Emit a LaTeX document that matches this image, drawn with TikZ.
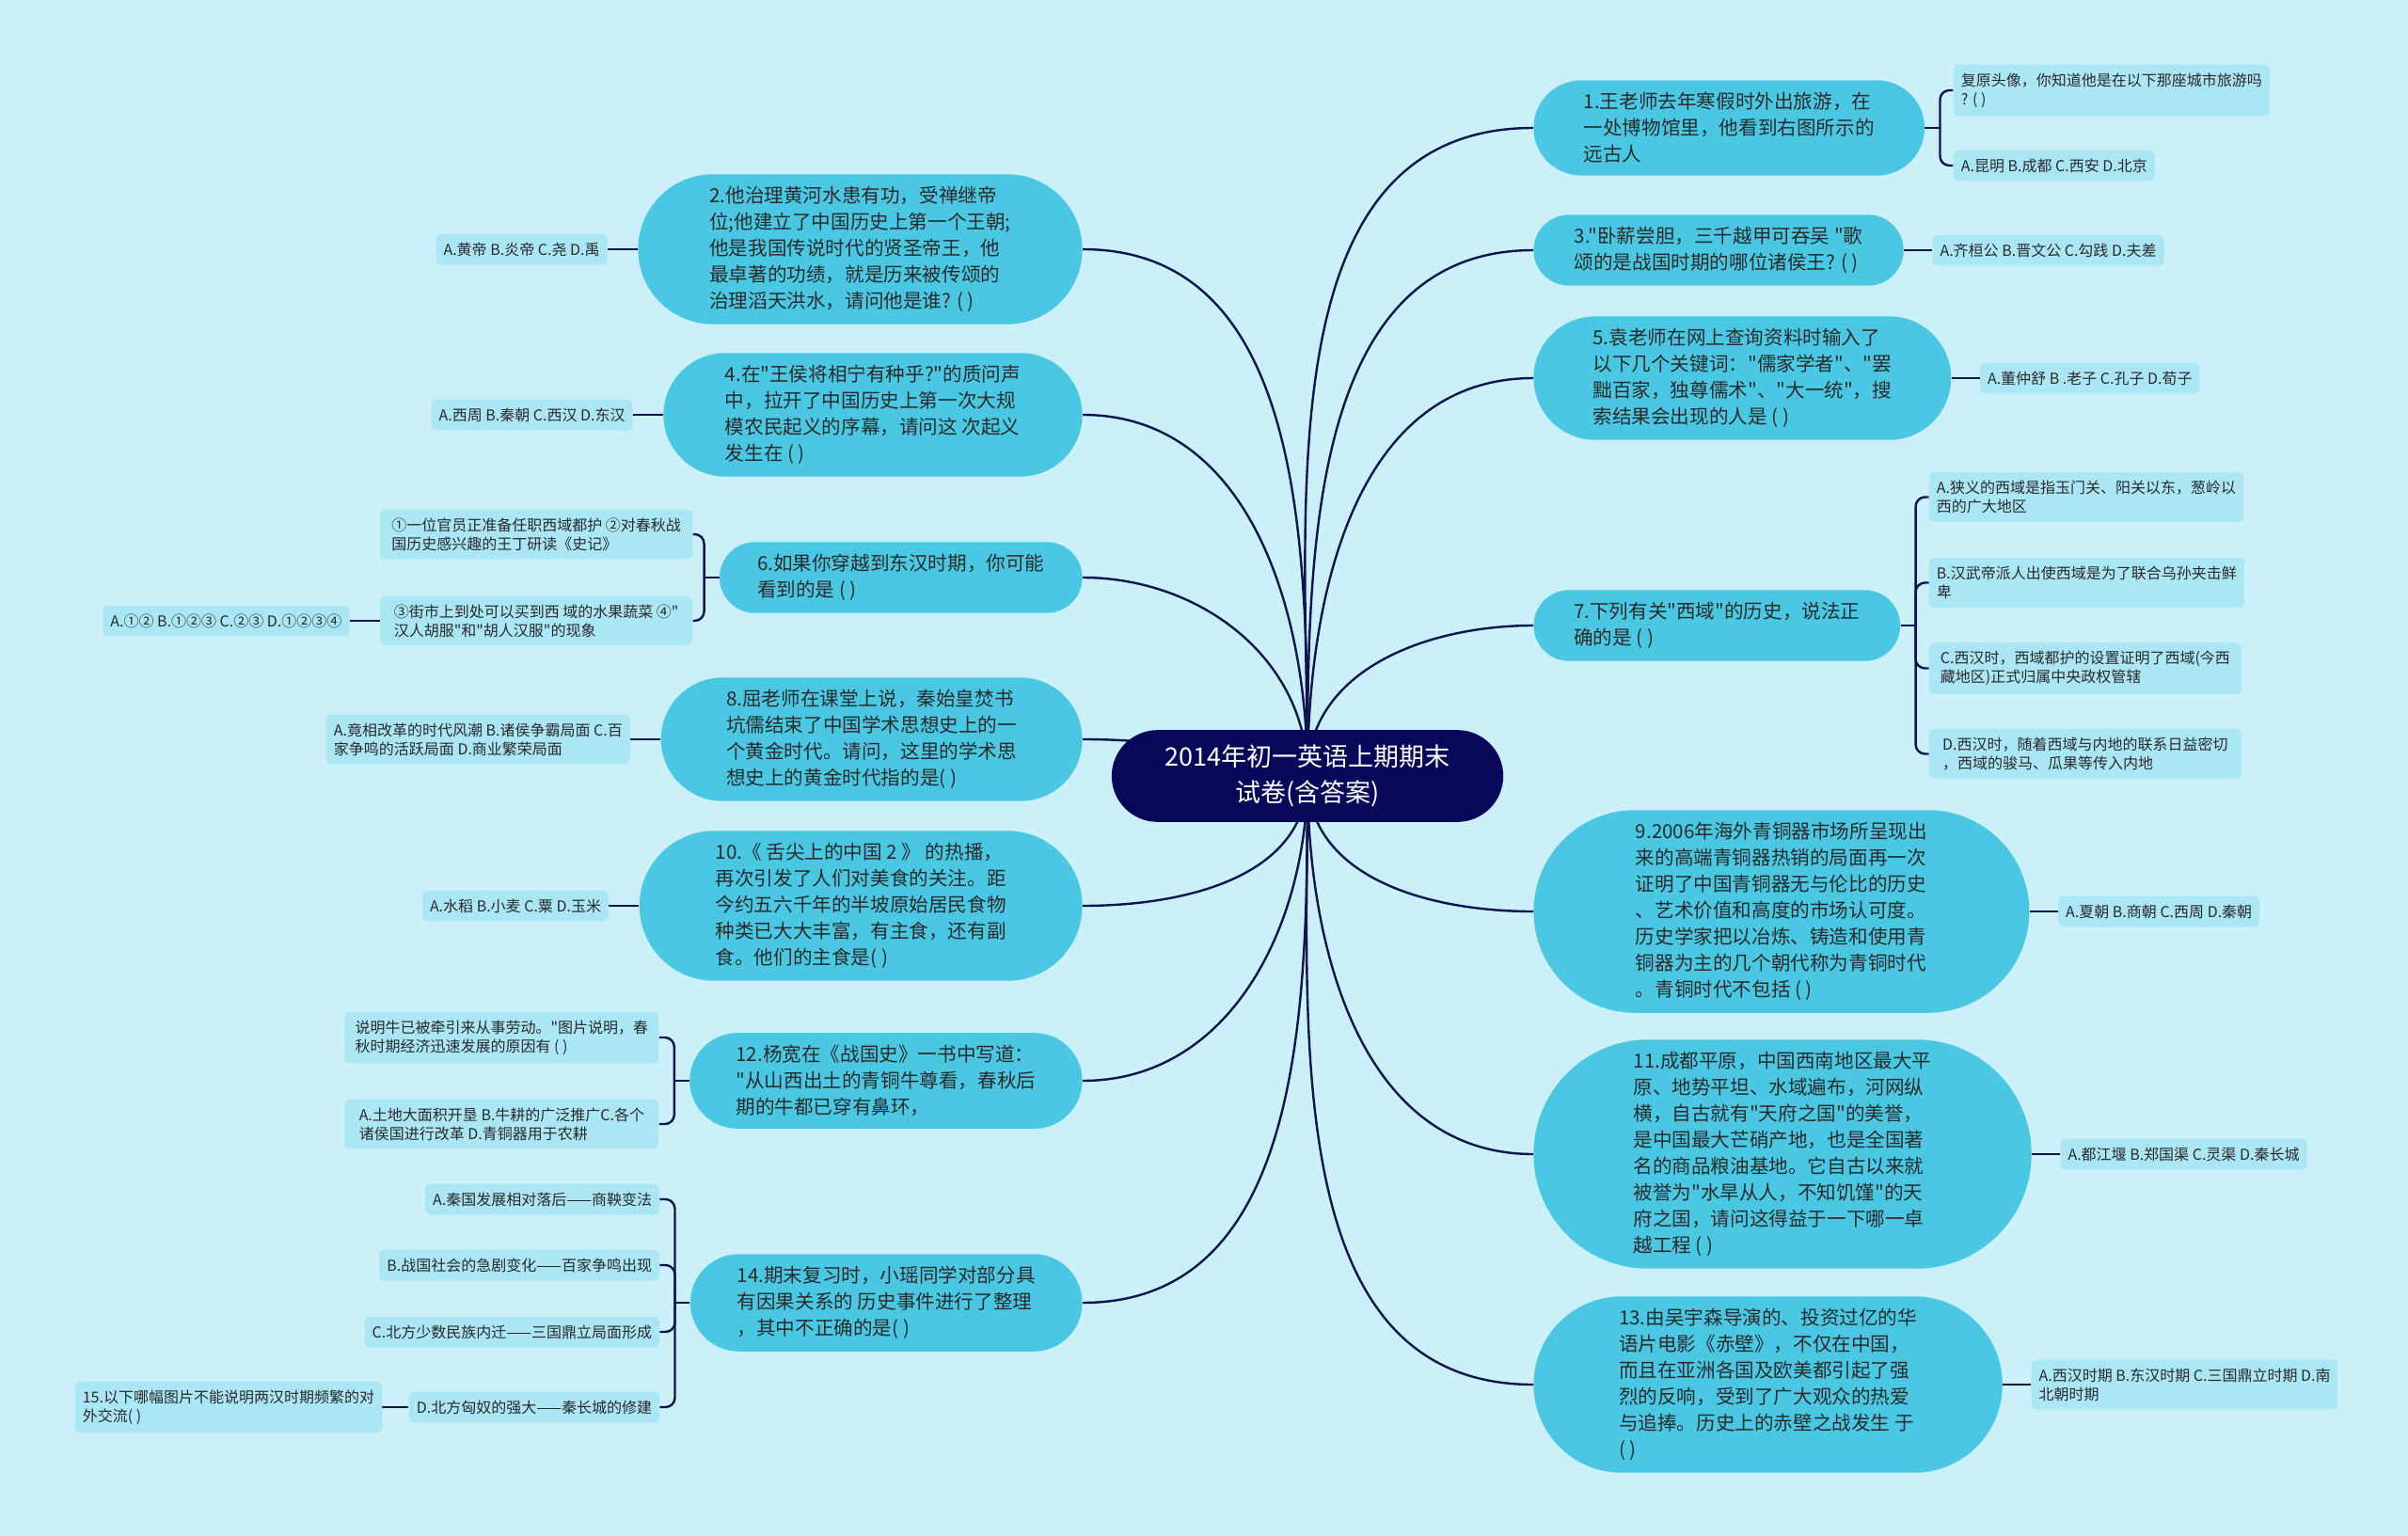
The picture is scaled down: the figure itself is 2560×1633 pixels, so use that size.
\documentclass[tikz,border=0pt]{standalone}
\usepackage{fontspec}
\setmainfont{Noto Sans CJK SC}[Ligatures=TeXOff]
\usetikzlibrary{positioning,shapes.misc,backgrounds}
\definecolor{bgcol}{HTML}{CBF0F8}
\definecolor{topiccol}{HTML}{4AC8E3}
\definecolor{answcol}{HTML}{AAE6F4}
\definecolor{rootcol}{HTML}{08085A}
\definecolor{linecol}{HTML}{0E1450}
\definecolor{txtcol}{HTML}{2A2A2A}

\begin{document}
\begin{tikzpicture}[x=0.5pt,y=0.5pt,
  topic/.style={rounded rectangle, fill=topiccol, text=txtcol, align=left, font=\fontsize{10.3}{14}\selectfont, inner xsep=#1, inner ysep=6.5pt},
  topic/.default=17pt,
  answ/.style={rectangle, rounded corners=3pt, fill=answcol, text=txtcol, align=left, font=\fontsize{8}{10}\selectfont, inner xsep=4pt, inner ysep=4.5pt},
  link/.style={draw=linecol, line width=1.2pt},
  brace/.style={link, rounded corners=5pt}]

\useasboundingbox (0,0) rectangle (2560,-1633);

\node[rounded rectangle, fill=rootcol, text=white, align=center, font=\fontsize{13.5}{18.8}\selectfont, inner xsep=22pt, inner ysep=8pt] (root) at (1390,-825) {2014年初一英语上期期末\\试卷(含答案)};

% right side
\node[topic=18.3pt, anchor=west] (q1) at (1630,-136) {1.王老师去年寒假时外出旅游，在\\一处博物馆里，他看到右图所示的\\远古人};
\node[answ, right=15pt of q1, yshift=20pt] (q1a) {复原头像，你知道他是在以下那座城市旅游吗\\? ( )};
\node[answ, right=15pt of q1, yshift=-20pt] (q1b) {A.昆明 B.成都 C.西安 D.北京};

\node[topic=17pt, anchor=west] (q3) at (1630,-266) {3."卧薪尝胆，三千越甲可吞吴 "歌\\颂的是战国时期的哪位诸侯王? ( )};
\node[answ, right=15pt of q3] (q3a) {A.齐桓公 B.晋文公 C.勾践 D.夫差};

\node[topic=18.3pt, anchor=west] (q5) at (1630,-402) {5.袁老师在网上查询资料时输入了\\以下几个关键词："儒家学者"、"罢\\黜百家，独尊儒术"、"大一统"，搜\\索结果会出现的人是 ( )};
\node[answ, right=15pt of q5] (q5a) {A.董仲舒 B .老子 C.孔子 D.荀子};

\node[topic=16.7pt, anchor=west] (q7) at (1630,-665) {7.下列有关"西域"的历史，说法正\\确的是 ( )};
\node[answ, minimum width=166pt, right=15pt of q7, yshift=68.25pt] (q7a) {A.狭义的西域是指玉门关、阳关以东，葱岭以\\西的广大地区};
\node[answ, minimum width=166pt, right=15pt of q7, yshift=22.75pt] (q7b) {B.汉武帝派人出使西域是为了联合乌孙夹击鲜\\卑};
\node[answ, minimum width=166pt, right=15pt of q7, yshift=-22.75pt] (q7c) {C.西汉时，西域都护的设置证明了西域(今西\\藏地区)正式归属中央政权管辖};
\node[answ, minimum width=166pt, right=15pt of q7, yshift=-68.25pt] (q7d) {D.西汉时，随着西域与内地的联系日益密切\\，西域的骏马、瓜果等传入内地};

\node[topic=26pt, anchor=west] (q9) at (1630,-969) {9.2006年海外青铜器市场所呈现出\\来的高端青铜器热销的局面再一次\\证明了中国青铜器无与伦比的历史\\、艺术价值和高度的市场认可度。\\历史学家把以冶炼、铸造和使用青\\铜器为主的几个朝代称为青铜时代\\。青铜时代不包括 ( )};
\node[answ, right=15pt of q9] (q9a) {A.夏朝 B.商朝 C.西周 D.秦朝};

\node[topic=19.6pt, anchor=west] (q11) at (1630,-1227) {11.成都平原，中国西南地区最大平\\原、地势平坦、水域遍布，河网纵\\横，自古就有"天府之国"的美誉，\\是中国最大芒硝产地，也是全国著\\名的商品粮油基地。它自古以来就\\被誉为"水旱从人，不知饥馑"的天\\府之国，请问这得益于一下哪一卓\\越工程 ( )};
\node[answ, right=15pt of q11] (q11a) {A.都江堰 B.郑国渠 C.灵渠 D.秦长城};

\node[topic=22.3pt, anchor=west] (q13) at (1630,-1472) {13.由吴宇森导演的、投资过亿的华\\语片电影《赤壁》，不仅在中国，\\而且在亚洲各国及欧美都引起了强\\烈的反响，受到了广大观众的热爱\\与追捧。历史上的赤壁之战发生 于\\( )};
\node[answ, right=15pt of q13] (q13a) {A.西汉时期 B.东汉时期 C.三国鼎立时期 D.南\\北朝时期};

% left side
\node[topic=19.9pt, anchor=east] (q2) at (1151,-265) {2.他治理黄河水患有功，受禅继帝\\位;他建立了中国历史上第一个王朝;\\他是我国传说时代的贤圣帝王，他\\最卓著的功绩，就是历来被传颂的\\治理滔天洪水，请问他是谁? ( )};
\node[answ, left=16pt of q2] (q2a) {A.黄帝 B.炎帝 C.尧 D.禹};

\node[topic=19.5pt, anchor=east] (q4) at (1151,-441) {4.在"王侯将相宁有种乎?"的质问声\\中，拉开了中国历史上第一次大规\\模农民起义的序幕，请问这 次起义\\发生在 ( )};
\node[answ, left=16pt of q4] (q4a) {A.西周 B.秦朝 C.西汉 D.东汉};

\node[topic=15.4pt, anchor=east] (q6) at (1151,-614) {6.如果你穿越到东汉时期，你可能\\看到的是 ( )};
\node[answ, minimum width=166pt, left=14pt of q6, yshift=23pt] (q6a) {①一位官员正准备任职西域都护 ②对春秋战\\国历史感兴趣的王丁研读《史记》};
\node[answ, minimum width=166pt, left=14pt of q6, yshift=-23pt] (q6b) {③街市上到处可以买到西 域的水果蔬菜 ④"\\汉人胡服"和"胡人汉服"的现象};
\node[answ, left=16pt of q6b] (q6c) {A.①② B.①②③ C.②③ D.①②③④};

\node[topic=21.5pt, anchor=east] (q8) at (1151,-786) {8.屈老师在课堂上说，秦始皇焚书\\坑儒结束了中国学术思想史上的一\\个黄金时代。请问，这里的学术思\\想史上的黄金时代指的是( )};
\node[answ, left=16pt of q8] (q8a) {A.竟相改革的时代风潮 B.诸侯争霸局面 C.百\\家争鸣的活跃局面 D.商业繁荣局面};

\node[topic=22.4pt, anchor=east] (q10) at (1151,-963) {10.《 舌尖上的中国 2 》 的热播，\\再次引发了人们对美食的关注。距\\今约五六千年的半坡原始居民食物\\种类已大大丰富，有主食，还有副\\食。他们的主食是( )};
\node[answ, left=16pt of q10] (q10a) {A.水稻 B.小麦 C.粟 D.玉米};

\node[topic=16.2pt, anchor=east] (q12) at (1151,-1149) {12.杨宽在《战国史》一书中写道：\\"从山西出土的青铜牛尊看，春秋后\\期的牛都已穿有鼻环，};
\node[answ, minimum width=167pt, left=16pt of q12, yshift=23pt] (q12a) {说明牛已被牵引来从事劳动。"图片说明，春\\秋时期经济迅速发展的原因有 ( )};
\node[answ, minimum width=167pt, left=16pt of q12, yshift=-23pt] (q12b) {A.土地大面积开垦 B.牛耕的广泛推广C.各个\\诸侯国进行改革 D.青铜器用于农耕};

\node[topic=16.2pt, anchor=east] (q14) at (1151,-1385) {14.期末复习时，小瑶同学对部分具\\有因果关系的 历史事件进行了整理\\，其中不正确的是( )};
\node[answ, left=16pt of q14, yshift=55pt] (q14a) {A.秦国发展相对落后——商鞅变法};
\node[answ, left=16pt of q14, yshift=20pt] (q14b) {B.战国社会的急剧变化——百家争鸣出现};
\node[answ, left=16pt of q14, yshift=-15.5pt] (q14c) {C.北方少数民族内迁——三国鼎立局面形成};
\node[answ, left=16pt of q14, yshift=-55.5pt] (q14d) {D.北方匈奴的强大——秦长城的修建};
\node[answ, left=14pt of q14d] (q15) {15.以下哪幅图片不能说明两汉时期频繁的对\\外交流( )};

\begin{scope}[on background layer]
\fill[bgcol] (0,0) rectangle (2560,-1633);
% branches from the root
\draw[link] (root.center) to[out=90,in=180] (q1.west);
\draw[link] (root.center) to[out=90,in=180] (q3.west);
\draw[link] (root.center) to[out=90,in=180] (q5.west);
\draw[link] (root.center) to[out=90,in=180] (q7.west);
\draw[link] (root.center) to[out=-90,in=180] (q9.west);
\draw[link] (root.center) to[out=-90,in=180] (q11.west);
\draw[link] (root.center) to[out=-90,in=180] (q13.west);
\draw[link] (root.center) to[out=90,in=0] (q2.east);
\draw[link] (root.center) to[out=90,in=0] (q4.east);
\draw[link] (root.center) to[out=90,in=0] (q6.east);
\draw[link] (root.center) to[out=165,in=0] (q8.east);
\draw[link] (root.center) to[out=-90,in=0] (q10.east);
\draw[link] (root.center) to[out=-90,in=0] (q12.east);
\draw[link] (root.center) to[out=-90,in=0] (q14.east);
% answers
\draw[link] (q1.east) -- ++(8pt,0) coordinate (q1j);
\draw[brace] (q1j) |- (q1a.west);
\draw[brace] (q1j) |- (q1b.west);
\draw[link] (q3.east) -- (q3a.west);
\draw[link] (q5.east) -- (q5a.west);
\draw[link] (q7.east) -- ++(8pt,0) coordinate (q7j);
\draw[brace] (q7j) |- (q7a.west);
\draw[brace] (q7j) |- (q7b.west);
\draw[brace] (q7j) |- (q7c.west);
\draw[brace] (q7j) |- (q7d.west);
\draw[link] (q9.east) -- (q9a.west);
\draw[link] (q11.east) -- (q11a.west);
\draw[link] (q13.east) -- (q13a.west);
\draw[link] (q2.west) -- (q2a.east);
\draw[link] (q4.west) -- (q4a.east);
\draw[link] (q6.west) -- ++(-8pt,0) coordinate (q6j);
\draw[brace] (q6j) |- (q6a.east);
\draw[brace] (q6j) |- (q6b.east);
\draw[link] (q6b.west) -- (q6c.east);
\draw[link] (q8.west) -- (q8a.east);
\draw[link] (q10.west) -- (q10a.east);
\draw[link] (q12.west) -- ++(-8pt,0) coordinate (q12j);
\draw[brace] (q12j) |- (q12a.east);
\draw[brace] (q12j) |- (q12b.east);
\draw[link] (q14.west) -- ++(-8pt,0) coordinate (q14j);
\draw[brace] (q14j) |- (q14a.east);
\draw[brace] (q14j) |- (q14b.east);
\draw[brace] (q14j) |- (q14c.east);
\draw[brace] (q14j) |- (q14d.east);
\draw[link] (q14d.west) -- (q15.east);
\end{scope}

\end{tikzpicture}
\end{document}
